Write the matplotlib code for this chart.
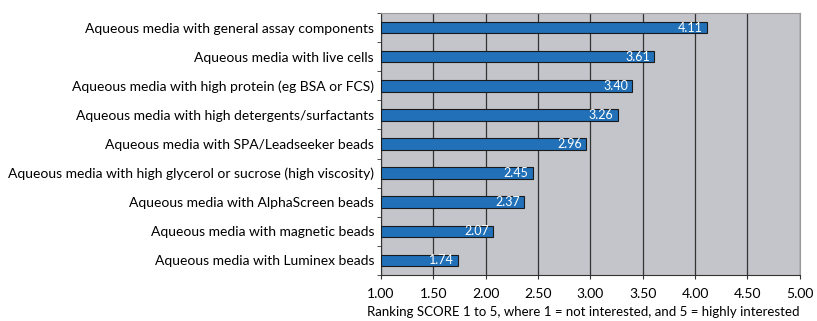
import matplotlib.pyplot as plt
import numpy as np

categories = [
    "Aqueous media with general assay components",
    "Aqueous media with live cells",
    "Aqueous media with high protein (eg BSA or FCS)",
    "Aqueous media with high detergents/surfactants",
    "Aqueous media with SPA/Leadseeker beads",
    "Aqueous media with high glycerol or sucrose (high viscosity)",
    "Aqueous media with AlphaScreen beads",
    "Aqueous media with magnetic beads",
    "Aqueous media with Luminex beads",
]
scores = [4.11, 3.61, 3.40, 3.26, 2.96, 2.45, 2.37, 2.07, 1.74]
xticks = [1.0, 1.5, 2.0, 2.5, 3.0, 3.5, 4.0, 4.5, 5.0]

plt.rcParams['font.family'] = ['Lato', 'DejaVu Sans']

fig = plt.figure(figsize=(8.17, 3.21), dpi=100)
ax = fig.add_axes([0.4663, 0.1433, 0.5127, 0.8162])
ax.set_facecolor('#c4c5ca')

y = np.arange(len(categories))
ax.barh(y, [s - 1.0 for s in scores], left=1.0, height=0.4,
        color='#2170b8', edgecolor='#1a1a1a', linewidth=0.8, zorder=3)
for yi, s in zip(y, scores):
    ax.text(s - 0.04, yi, f"{s:.2f}", color='white', fontsize=9,
            ha='right', va='center', zorder=4)

ax.set_xlim(1.0, 5.0)
ax.set_ylim(len(categories) - 0.5, -0.5)
ax.set_xticks(xticks)
ax.set_xticklabels([f"{t:.2f}" for t in xticks], fontsize=10)
ax.xaxis.grid(True, color='#333333', linewidth=0.9, zorder=1)
ax.set_axisbelow(True)

ax.set_yticks(y)
ax.set_yticklabels(categories, fontsize=10)
ax.tick_params(axis='y', length=0, pad=5)
ax.set_yticks(np.arange(-0.5, len(categories)), minor=True)
ax.tick_params(axis='y', which='minor', length=3, color='#333333')
ax.tick_params(axis='x', length=3, color='#333333', pad=6)

for side in ['top', 'right']:
    ax.spines[side].set_color('#999999')
for side in ['left', 'bottom']:
    ax.spines[side].set_color('#333333')

ax.set_xlabel("Ranking SCORE 1 to 5, where 1 = not interested, and 5 = highly interested",
              fontsize=9.5, labelpad=5, x=1.0, ha='right')

fig.savefig('out.png', dpi=100)
